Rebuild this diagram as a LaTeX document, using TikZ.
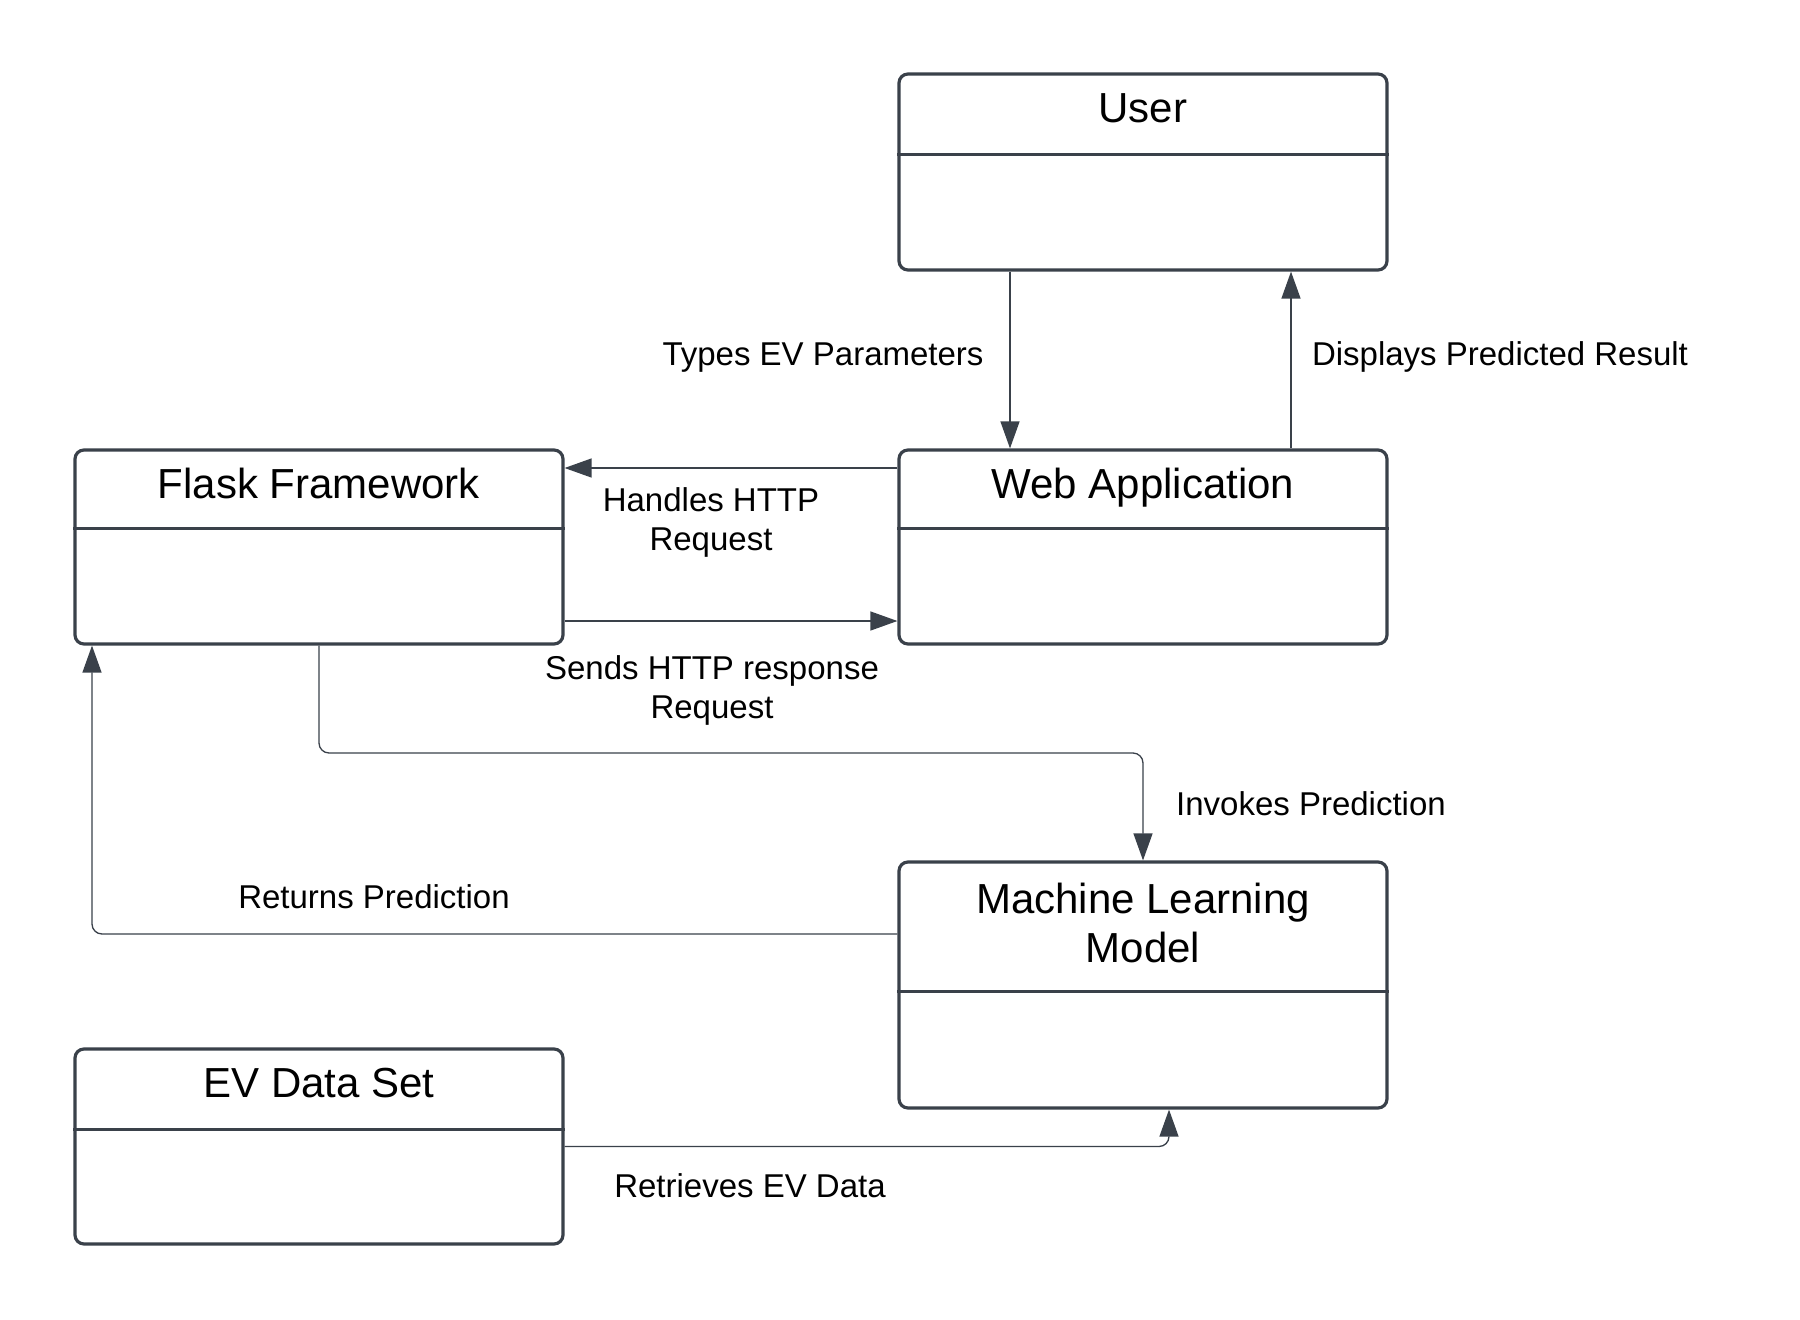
\documentclass[tikz,border=0pt]{standalone}
\usepackage{fontspec}
\setmainfont{Liberation Sans}
\usetikzlibrary{arrows.meta,calc}
\definecolor{lc}{HTML}{3A414A}
\begin{document}
\begin{tikzpicture}[x=1pt,y=-1pt,
  box/.style={draw=lc, line width=3.2pt, rounded corners=9pt, fill=white, minimum width=488pt, inner sep=0pt},
  div/.style={draw=lc, line width=3.2pt},
  conn/.style={draw=lc, line width=1.3pt, rounded corners=10pt, -{Triangle[length=27pt,width=19pt]}},
  title/.style={font=\fontsize{42}{49}\selectfont, anchor=base, align=center, inner sep=0pt},
  lbl/.style={font=\fontsize{33}{39}\selectfont, anchor=base, align=center, inner sep=0pt},
]
\fill[white] (0,0) rectangle (1800,1320);
\useasboundingbox (0,0) rectangle (1800,1320);

% boxes
\node[box, minimum height=196pt] (user) at (1143,172) {};
\node[box, minimum height=194pt] (web) at (1143,547) {};
\node[box, minimum height=194pt] (flask) at (319,547) {};
\node[box, minimum height=246pt] (ml) at (1143,985) {};
\node[box, minimum height=195pt] (ev) at (319,1146.5) {};

% dividers
\draw[div] ([yshift=-82pt]user.north west) -- ([yshift=-82pt]user.north east);
\draw[div] ([yshift=-80pt]web.north west) -- ([yshift=-80pt]web.north east);
\draw[div] ([yshift=-80pt]flask.north west) -- ([yshift=-80pt]flask.north east);
\draw[div] ([yshift=-131pt]ml.north west) -- ([yshift=-131pt]ml.north east);
\draw[div] ([yshift=-82pt]ev.north west) -- ([yshift=-82pt]ev.north east);

% titles (base = baseline of last line)
\node[title] (usert) at ([yshift=-50pt]user.north) {User};
\node[title] (webt) at ([yshift=-50pt]web.north) {Web Application};
\node[title] (flaskt) at ([yshift=-50pt]flask.north) {Flask Framework};
\node[title] (mlt) at ([yshift=-102pt]ml.north) {Machine Learning\\Model};
\node[title] (evt) at ([yshift=-50pt]ev.north) {EV Data Set};

% connectors
\coordinate (invk) at (1143,753);
\draw[conn] ([xshift=-133pt]user.south) -- ([xshift=-133pt]web.north);
\draw[conn] ([xshift=148pt]web.north) -- ([xshift=148pt]user.south);
\draw[conn] ([yshift=79pt]web.west) -- ([yshift=79pt]flask.east);
\draw[conn] ([yshift=-74pt]flask.east) -- ([yshift=-74pt]web.west);
\draw[conn] (flask.south) |- (invk) -- (ml.north);
\draw[conn] ([yshift=51pt]ml.west) -| ([xshift=-227pt]flask.south);
\draw[conn] (ev.east) -| ([xshift=26pt]ml.south);

% labels
\node[lbl] (ltypes) at (823,365) {Types EV Parameters};
\node[lbl] (ldisp) at (1500,365) {Displays Predicted Result};
\node[lbl] (lhand) at (711,550) {Handles HTTP\\Request};
\node[lbl] (lsend) at (712,718) {Sends HTTP response\\Request};
\node[lbl] (linv) at (1311,815) {Invokes Prediction};
\node[lbl] (lret) at (374,908) {Returns Prediction};
\node[lbl] (lretr) at (750,1197) {Retrieves EV Data};
\end{tikzpicture}
\end{document}
